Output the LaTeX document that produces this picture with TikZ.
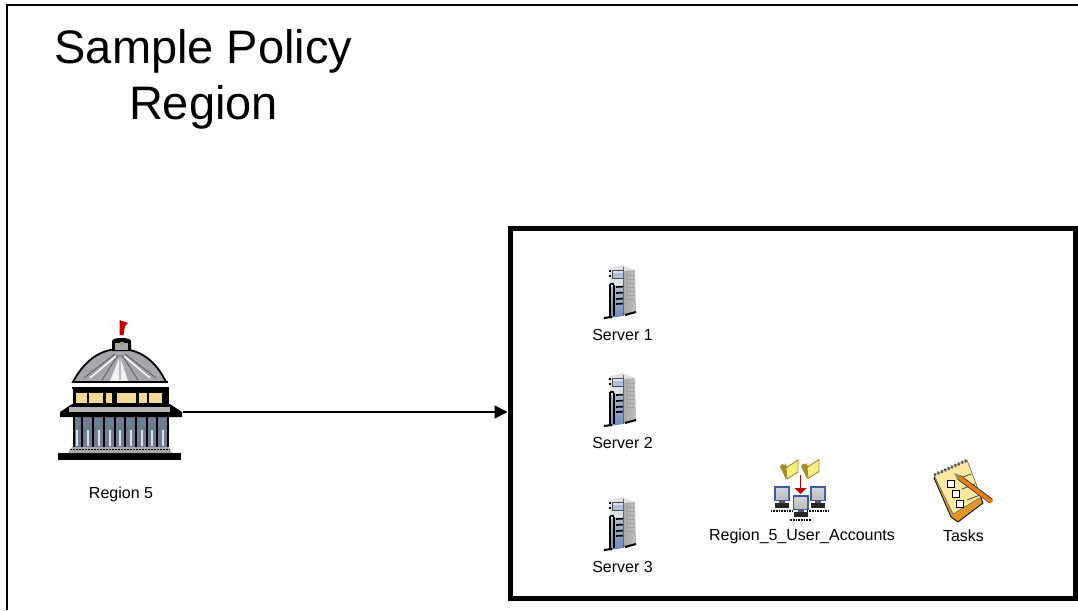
\documentclass[tikz,border=0pt]{standalone}
\usepackage{fontspec}
\setmainfont{Liberation Sans}
\usetikzlibrary{arrows.meta,calc}
\definecolor{srvfront}{RGB}{175,185,200}
\definecolor{srvside}{RGB}{165,165,165}
\definecolor{srvlight}{RGB}{222,226,230}
\definecolor{srvblue}{RGB}{110,140,190}
\definecolor{domegrey}{RGB}{165,167,173}
\definecolor{colgrey}{RGB}{110,125,145}
\definecolor{winyellow}{RGB}{245,218,150}
\definecolor{foldery}{RGB}{250,238,130}
\definecolor{folderd}{RGB}{165,140,45}
\definecolor{scrblue}{RGB}{60,90,170}
\definecolor{scrgrey}{RGB}{190,190,190}
\definecolor{padyellow}{RGB}{252,232,160}
\definecolor{padorange}{RGB}{225,150,40}
\definecolor{pencil}{RGB}{225,125,30}
\tikzset{
  x=1pt,y=-1pt,
  lbl/.style={font=\fontsize{16}{18}\selectfont,inner sep=0pt,anchor=center},
  ttl/.style={font=\fontsize{47}{56}\selectfont,inner sep=0pt,align=center,anchor=center},
  frameln/.style={line width=2.2pt,line cap=butt},
  holder/.style={inner sep=0pt,minimum width=#1,minimum height=2pt},
  conn/.style={line width=1.8pt,-{Triangle[length=13pt,width=13pt]}},
  pics/server/.style={code={
    % side
    \shade[left color=srvside,right color=srvside!70] (14,1) -- (27,5) -- (28,47) -- (14,51) -- cycle;
    % top
    \fill[srvlight] (2,3) -- (15,0) -- (27,5) -- (15,6) -- cycle;
    % front
    \fill[srvlight] (2,3) -- (15,4) -- (15,22) -- (2,22) -- cycle;
    \shade[top color=srvfront,bottom color=srvblue] (2,22) -- (15,22) -- (15,51) -- (2,53) -- cycle;
    % display
    \draw[black!70,line width=.9pt,fill=srvblue!55] (4,5) rectangle (15,13);
    \fill[srvlight] (5,6) rectangle (15,8);
    % left-edge ticks
    \draw[black,line width=1.2pt] (1,6) -- (3,6) (1,11) -- (3,11);
    % vertical black lines
    \draw[black,line width=1.2pt] (2,19) -- (2,53) (6,20) -- (6,51);
    \draw[black,line width=1.2pt] (2,19) -- (6,19);
    \foreach \yy in {22,28,34,39}{\draw[black,line width=1.7pt] (8,\yy) -- (15,\yy-0.4);}
    % feet
    \draw[black,line width=2pt] (-4,53) -- (4,52) (17,50) -- (28,47);
    % vents
    \foreach \vx in {19,22,25}{
      \foreach \vy in {10,14,18,22,26,30,34}{
        \fill[black!50] (\vx,\vy) rectangle (\vx+1.2,\vy+1.2);
      }
    }
    \draw[black!60,line width=.6pt] (15,2) -- (15,51);
  }},
  pics/workstation/.style={code={
    \fill[scrblue] (0,0) rectangle (16,15);
    \shade[top color=scrgrey!70,bottom color=scrgrey] (2,2) rectangle (14,13);
    \fill[black!65] (5,15) rectangle (11,17);
    \fill[black!85] (1,17) rectangle (15,22);
    \draw[black,line width=1.4pt,dash pattern=on 1pt off .6pt] (-3,25) -- (19,25);
  }},
  pics/folder/.style={code={
    \fill[folderd] (0,7) -- (2,4) -- (5,5) -- (5,3) -- (7,7) -- (7,16) -- (6,20) -- (4,15) -- cycle;
    \fill[foldery,draw=folderd,line width=.9pt] (6,8) -- (18,0) -- (18,12) -- (7,19) -- cycle;
  }},
}
\begin{document}
\begin{tikzpicture}
\useasboundingbox (0,0) rectangle (1078,610);
% outer frame
\coordinate (fbl) at (7,610);
\coordinate (ftl) at (7,5);
\coordinate (ftr) at (1078,5);
\draw[frameln] (fbl) -- (ftl) -- (ftr);
% title
\node[ttl] (title) at (203.5,79) {Sample Policy\\Region};
% inner box
\node[draw=black,line width=5pt,inner sep=0pt,minimum width=565pt,minimum height=370pt] (box) at (792.5,413.5) {};
% capitol icon
\node[holder=126pt] (capitol) at (120,412) {};
\begin{scope}
  % base
  \fill[black] (58,453) rectangle (181,460);
  \fill[black!35] (68,453) -- (172,453) -- (168,447) -- (72,447) -- cycle;
  \draw[black,line width=1pt,dash pattern=on 1.5pt off 1.5pt] (70,449) -- (170,449);
  % columns
  \fill[colgrey] (73,417) rectangle (167,447);
  \foreach \cx in {73,84,95,105.5,116,127,137.5,148,159}{
    \fill[black] (\cx+8,417) rectangle (\cx+10,447);
    \fill[white!75!colgrey] (\cx+3,430) rectangle (\cx+5,446);
  }
  \fill[black] (73,417) rectangle (75,447);
  % cornice
  \fill[black] (60,417) -- (182,417) -- (182,412) -- (170,404) -- (72,404) -- (60,412) -- cycle;
  \fill[black!30] (69,407) rectangle (170,411.5);
  % drum
  \fill[black] (73,387) rectangle (169,406);
  \foreach \wa/\wb in {76/87,89/103,106/112,117/136,139/147,149/162}{
    \fill[winyellow] (\wa,393) rectangle (\wb,403);
  }
  \fill[white] (75,384) rectangle (167,388);
  % dome
  \fill[domegrey,draw=black,line width=1.8pt] (73,382) .. controls (84,361) and (100,349) .. (120,349) .. controls (140,349) and (156,361) .. (166,382) -- cycle;
  \fill[white!85!domegrey] (110,381) -- (120,356) -- (128,381) -- cycle;
  \draw[white,line width=1.4pt] (90,378) -- (116,356) (150,378) -- (124,356);
  \draw[black!65,line width=.8pt] (84,378) -- (115,354) (102,380) -- (118,355) (120,380) -- (120,355) (138,380) -- (122,355) (156,378) -- (125,354);
  % white band
  \fill[black] (72,381) rectangle (168,383);
  \fill[white] (76,383.5) rectangle (166,387.5);
  \fill[black] (72,387) rectangle (169,389);
  % lantern
  \fill[black] (112,351) -- (112,341) .. controls (112,337) and (131,337) .. (131,341) -- (131,351) -- cycle;
  \fill[domegrey] (115,343) rectangle (128,350);
  \fill[winyellow!70!black] (120,342) rectangle (124,346);
  % flag
  \fill[red!75!black] (119.5,335) -- (119.5,320) -- (128,323) -- (125,326) -- (123.5,335) -- cycle;
\end{scope}
\node[lbl] (l5) at (121,494) {Region 5};
% servers
\foreach \nm/\oy in {1/0,2/108,3/232}{
  \pic at (608,{265+\oy}) {server};
}
\node[lbl] (s1) at (622.5,335) {Server 1};
\node[lbl] (s2) at (622.5,443) {Server 2};
\node[lbl] (s3) at (622.5,567) {Server 3};
% accounts icon
\pic at (780,460) {folder};
\pic at (801,459.5) {folder};
\draw[red!75!black,line width=1.4pt] (800.5,475) -- (800.5,489);
\fill[red!75!black] (794.5,488) -- (806.5,488) -- (800.5,494) -- cycle;
\pic at (774,486) {workstation};
\pic at (810,486) {workstation};
\pic at (792.5,495) {workstation};
\node[lbl] (acct) at (802,536) {Region\_5\_User\_Accounts};
% tasks icon
\fill[padorange,draw=black,line width=.8pt] (934,478) -- (967,462) -- (983,503) -- (958,522) -- (951,517) -- cycle;
\fill[padyellow,draw=black!60,line width=.6pt] (934,475) -- (967,460) -- (981,497) -- (953,514) -- cycle;
\foreach \t in {0,1,...,9}{
  \draw[black!65,line width=1.7pt] ($(934.5,473)+(\t*3.4,-\t*1.5)$) -- ++(1,3);
}
\foreach \bx/\by in {951/484,955.5/494,960/504}{
  \draw[black,fill=white,line width=1pt] (\bx-3.5,\by-3.5) rectangle (\bx+3.5,\by+3.5);
}
\foreach \lx/\ly in {958/479,962/489,967/500}{
  \draw[black!75,line width=.8pt] (\lx,\ly) -- (\lx+13,\ly-5);
}
\draw[black!80,line width=5.5pt] (958.5,477) -- (991,501);
\draw[pencil,line width=4pt] (958,476.5) -- (992,502);
\fill[padyellow!60!black] (954,473) -- (961,475.5) -- (957.5,480) -- cycle;
\node[lbl] (tasks) at (963.5,536) {Tasks};
% connector
\draw[conn] (capitol.east) -- (capitol.east -| box.west);
\end{tikzpicture}
\end{document}
